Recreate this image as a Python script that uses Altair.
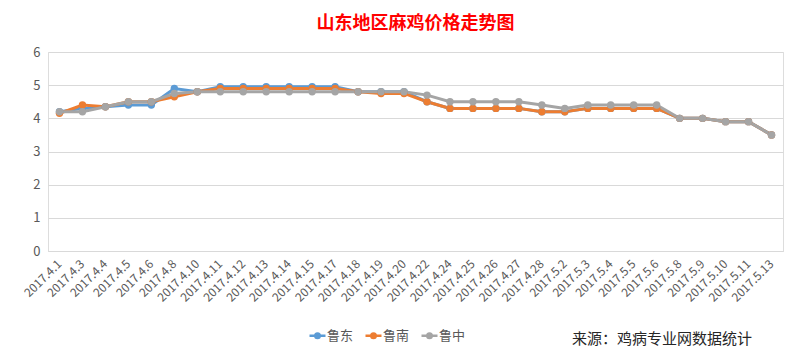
import altair as alt
import pandas as pd

dates = ["2017.4.1", "2017.4.3", "2017.4.4", "2017.4.5", "2017.4.6", "2017.4.8",
         "2017.4.10", "2017.4.11", "2017.4.12", "2017.4.13", "2017.4.14", "2017.4.15",
         "2017.4.17", "2017.4.18", "2017.4.19", "2017.4.20", "2017.4.22", "2017.4.24",
         "2017.4.25", "2017.4.26", "2017.4.27", "2017.4.28", "2017.5.2", "2017.5.3",
         "2017.5.4", "2017.5.5", "2017.5.6", "2017.5.8", "2017.5.9", "2017.5.10",
         "2017.5.11", "2017.5.13"]

ludong = [4.2, 4.3, 4.35, 4.4, 4.4, 4.9, 4.8, 4.95, 4.95, 4.95, 4.95, 4.95,
          4.95, 4.8, 4.8, 4.8, 4.5, 4.3, 4.3, 4.3, 4.3, 4.2, 4.2, 4.3,
          4.3, 4.3, 4.3, 4.0, 4.0, 3.9, 3.9, 3.5]
lunan = [4.15, 4.4, 4.35, 4.5, 4.5, 4.65, 4.8, 4.9, 4.9, 4.9, 4.9, 4.9,
         4.9, 4.8, 4.75, 4.75, 4.5, 4.3, 4.3, 4.3, 4.3, 4.2, 4.2, 4.3,
         4.3, 4.3, 4.3, 4.0, 4.0, 3.9, 3.9, 3.5]
luzhong = [4.2, 4.2, 4.35, 4.5, 4.5, 4.75, 4.8, 4.8, 4.8, 4.8, 4.8, 4.8,
           4.8, 4.8, 4.8, 4.8, 4.7, 4.5, 4.5, 4.5, 4.5, 4.4, 4.3, 4.4,
           4.4, 4.4, 4.4, 4.0, 4.0, 3.9, 3.9, 3.5]

series_names = ["鲁东", "鲁南", "鲁中"]
series_colors = ["#5B9BD5", "#ED7D31", "#A5A5A5"]
title_text = "山东地区麻鸡价格走势图"
source_text = "来源：鸡病专业网数据统计"

rows = []
for name, vals in zip(series_names, [ludong, lunan, luzhong]):
    for i, (d, v) in enumerate(zip(dates, vals)):
        rows.append({"date": d, "price": v, "series": name, "order": i})
df = pd.DataFrame(rows)

FONT = "Noto Sans CJK SC"
legend_shape = "M-1.6,0H1.6M-0.45,0A0.45,0.45 0 1,0 0.45,0A0.45,0.45 0 1,0 -0.45,0Z"

base = alt.Chart(df).encode(
    x=alt.X("date:N", sort=dates, scale=alt.Scale(type="point", padding=0.5),
            axis=alt.Axis(title=None, labelAngle=315, labelFontSize=12,
                          labelColor="#595959", labelFont=FONT, ticks=False,
                          domain=True, domainColor="#D9D9D9", labelPadding=7,
                          labelOffset=-4, grid=False)),
    y=alt.Y("price:Q", scale=alt.Scale(domain=[0, 6], nice=False),
            axis=alt.Axis(title=None, values=[0, 1, 2, 3, 4, 5, 6], labelFontSize=13,
                          labelColor="#595959", labelFont=FONT, ticks=False, domain=False,
                          gridColor="#D9D9D9", labelPadding=8)),
    color=alt.Color("series:N", scale=alt.Scale(domain=series_names, range=series_colors),
                    legend=alt.Legend(title=None, orient="none", direction="horizontal",
                                      legendX=263, legendY=277, symbolType=legend_shape,
                                      symbolSize=100, symbolStrokeWidth=2.5,
                                      labelFontSize=13, labelColor="#595959",
                                      labelFont=FONT, columnPadding=6, labelOffset=3)),
    order=alt.Order("order:Q"),
)

lines = base.mark_line(strokeWidth=3, point=alt.OverlayMarkDef(filled=True, size=55, opacity=1))

source = alt.Chart(pd.DataFrame({"t": [source_text]})).mark_text(
    font=FONT, fontSize=15, color="#262626", align="right", baseline="middle"
).encode(x=alt.value(704), y=alt.value(287), text="t:N")

chart = alt.layer(lines, source).properties(
    width=735, height=199,
    title=alt.TitleParams(title_text, color="#FF0000", fontSize=18, font=FONT,
                          fontWeight="bold", anchor="middle", offset=13),
    autosize=alt.AutoSizeParams(type="none"),
    padding={"left": 40, "top": 44, "right": 8, "bottom": 99},
).configure_view(stroke=None).configure(background="white")

chart.save("out.html", embed_options={"renderer": "svg", "actions": False})
